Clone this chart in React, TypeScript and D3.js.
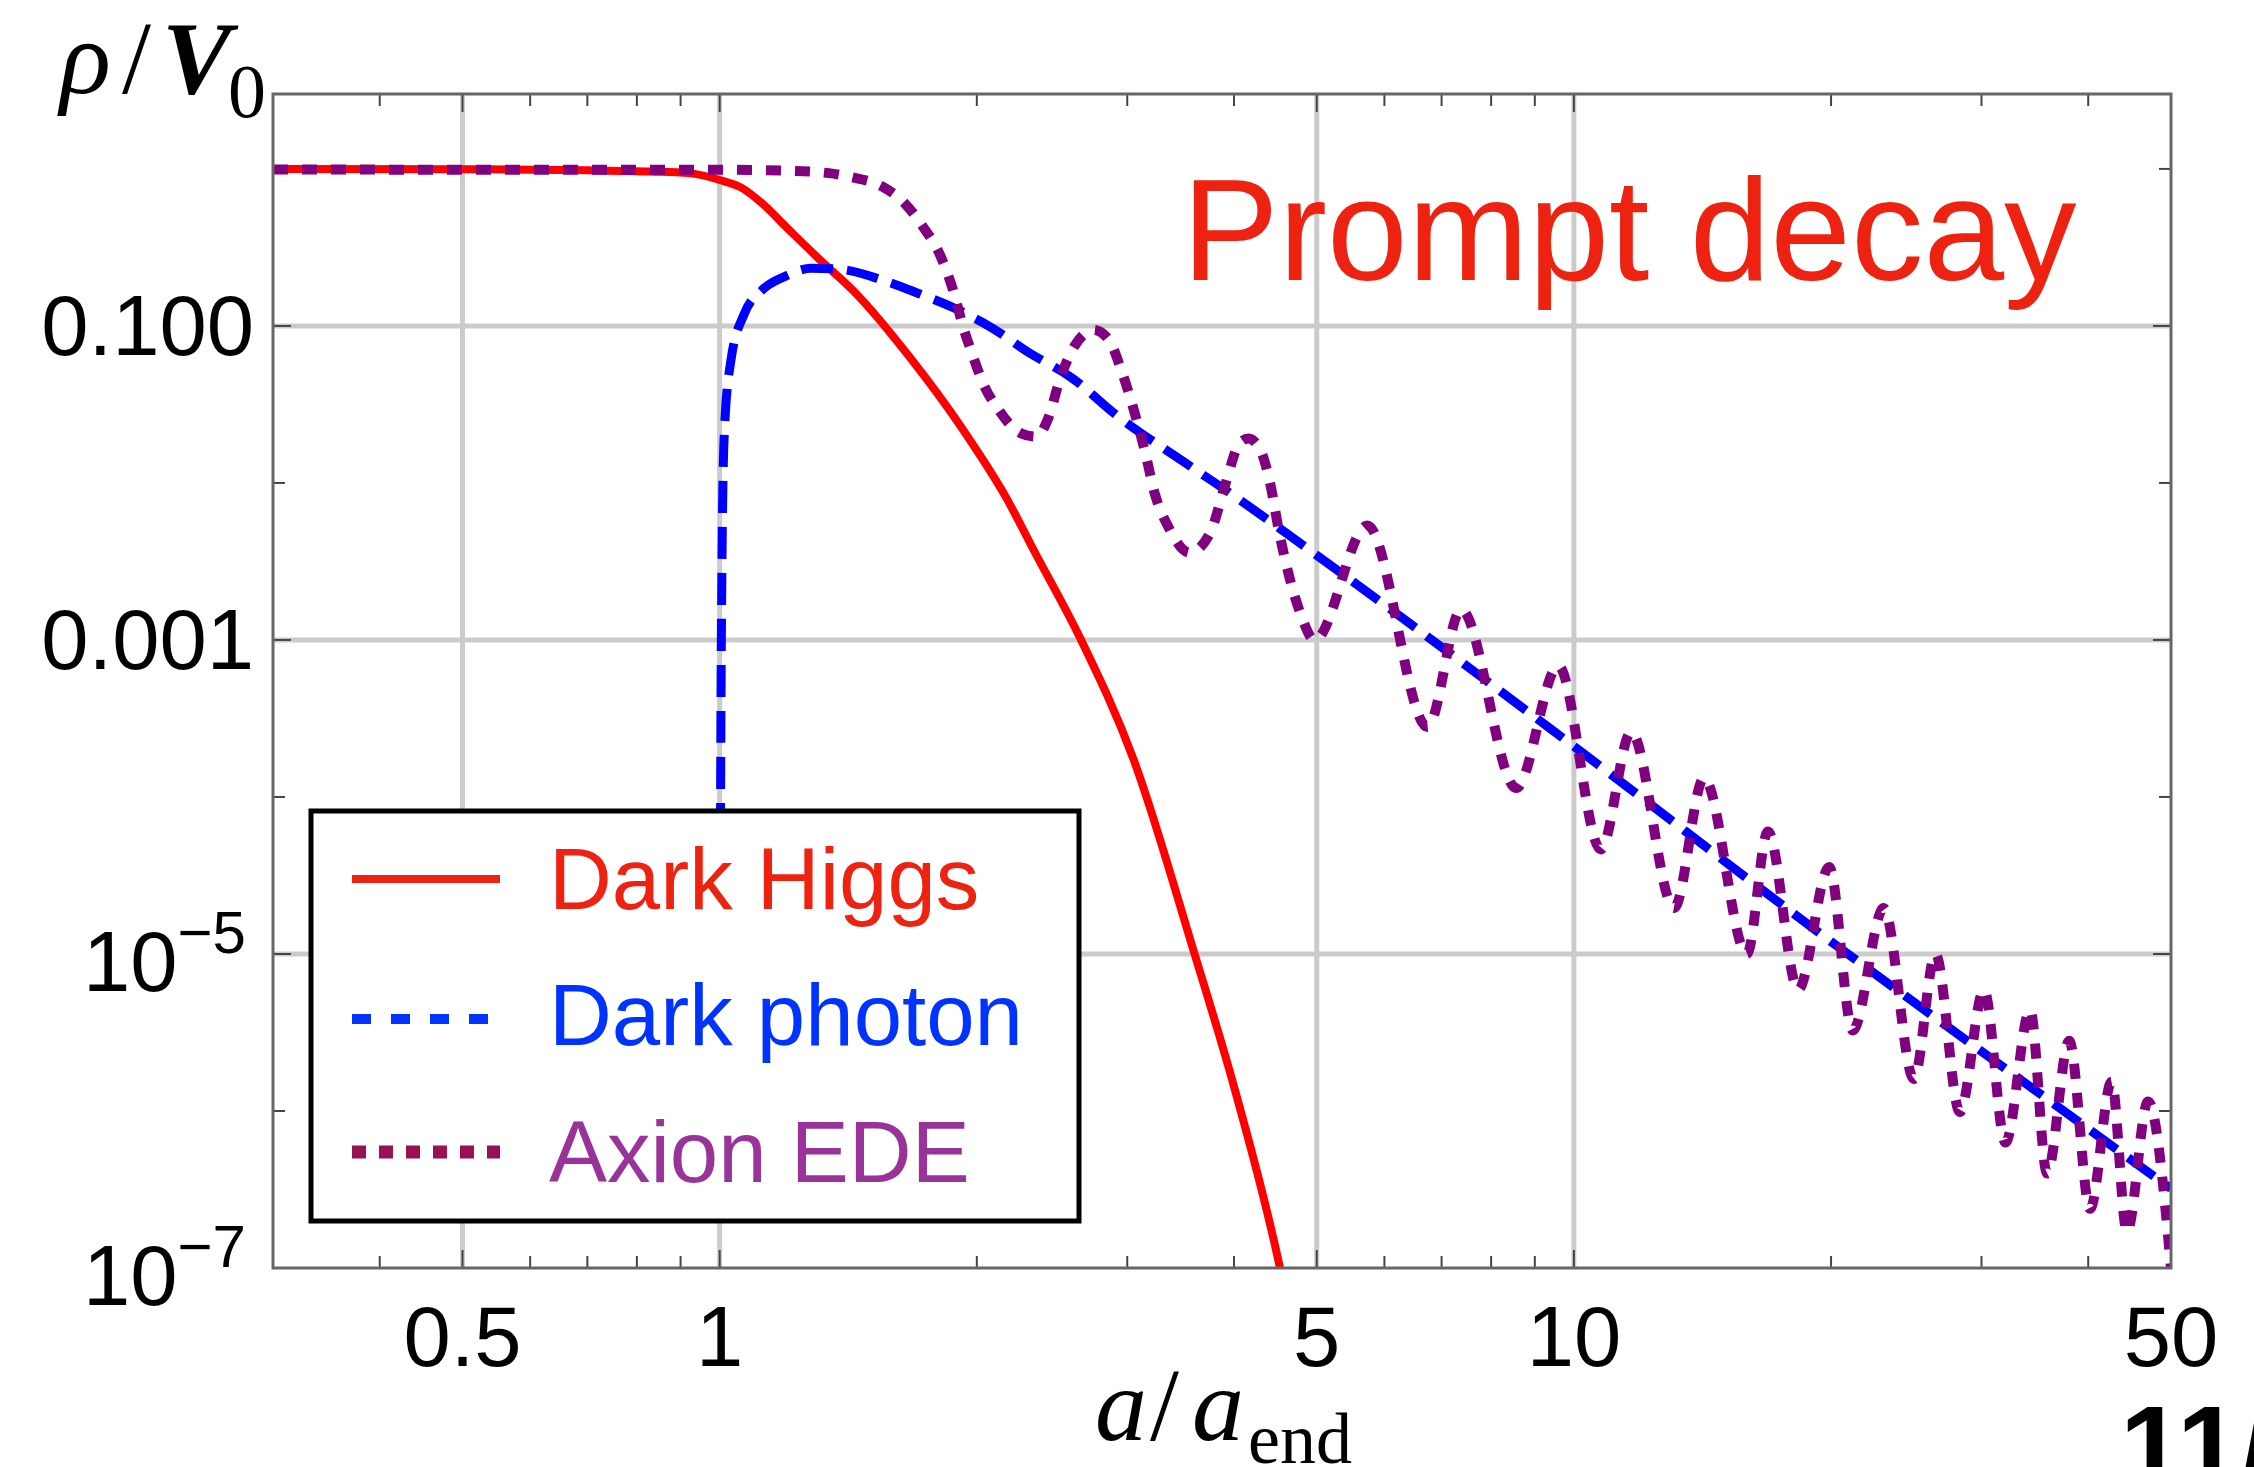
import React from "react";
import * as d3 from "d3";

const width = 2254;
const height = 1467;

// plot frame (px)
const left = 273;
const right = 2171;
const top = 94;
const bottom = 1268;

// Dark Higgs (a/a_end, rho/V0)
const higgsA = [0.3, 0.5, 0.7, 0.83, 0.92, 1.0, 1.06, 1.121, 1.2, 1.311, 1.444, 1.667, 1.927, 2.172, 2.331, 2.644, 3.052, 3.587, 3.996, 4.53, 4.8];
const higgsRho = [1.0, 0.995, 0.98, 0.962, 0.94, 0.85, 0.76, 0.604, 0.42, 0.263, 0.161, 0.0638, 0.0218, 0.0078, 0.00374, 0.00102, 1.73e-4, 1.05e-5, 1.46e-6, 9.9e-8, 2e-8];

// Dark photon
const photonA = [1.0, 1.003, 1.0065, 1.0127, 1.031, 1.069, 1.121, 1.191, 1.28, 1.376, 1.551, 1.709, 1.881, 2.071, 2.308, 2.572, 2.93, 3.517, 3.96, 4.87, 10, 20, 30, 50];
const photonRho = [1e-6, 2e-4, 3.7e-3, 0.0209, 0.0607, 0.12, 0.169, 0.206, 0.233, 0.23, 0.196, 0.161, 0.13, 0.0991, 0.067, 0.0475, 0.0264, 0.0133, 8.6e-3, 3.84e-3, 2.1e-4, 1.2e-5, 2.4e-6, 3.2e-7];

// Axion EDE (oscillating)
const axionA = [0.3, 1.0, 1.191, 1.343, 1.427, 1.551, 1.646, 1.729, 1.815, 1.881, 1.927, 1.974, 2.034, 2.121, 2.253, 2.35, 2.42, 2.508, 2.6, 2.74, 2.855, 2.96, 3.077, 3.15, 3.23, 3.35, 3.55, 3.75, 3.91, 4.06, 4.16, 4.31, 4.41, 4.52, 4.78, 4.97, 5.73, 6.74, 7.38, 8.56, 9.59, 10.75, 11.67, 13.1, 14.2, 15.94, 16.87, 18.3, 19.9, 21.2, 23.05, 25.0, 26.5, 28.3, 30.2, 32, 34.2, 35.8, 38.0, 40.2, 42.6, 44.4, 47.0, 50];
const axionRho = [0.99, 0.987, 0.975, 0.94, 0.885, 0.771, 0.605, 0.43, 0.276, 0.161, 0.099, 0.067, 0.0431, 0.0292, 0.0207, 0.0197, 0.0252, 0.0475, 0.0738, 0.0944, 0.0815, 0.05, 0.0252, 0.0155, 8.6e-3, 5.27e-3, 3.6e-3, 4.79e-3, 9.9e-3, 0.0179, 0.0192, 0.0155, 9.9e-3, 4.8e-3, 1.5e-3, 1.0e-3, 5.36e-3, 2.79e-4, 1.56e-3, 1.14e-4, 6.85e-4, 4.63e-5, 2.59e-4, 1.96e-5, 1.32e-4, 1.0e-5, 6.03e-5, 5.92e-6, 3.58e-5, 3.26e-6, 1.96e-5, 1.6e-6, 1.0e-5, 9.86e-7, 5.92e-6, 6.3e-7, 4.4e-6, 4.0e-7, 2.8e-6, 2.38e-7, 1.54e-6, 1.7e-7, 1.15e-6, 1.0e-7];

// ticks
const xMajor = [0.5, 1, 5, 10, 50];
const xLabels = ["0.5", "1", "5", "10", "50"];
const xMinor = [0.4, 0.6, 0.7, 0.8, 0.9, 2, 3, 4, 6, 7, 8, 9, 20, 30, 40];
const xGrid = [0.5, 1, 5, 10];
const yMajor = [0.1, 1e-3, 1e-5, 1e-7];
const yLabels = ["0.100", "0.001", "10|−5", "10|−7"];
const yMinor = [1, 0.01, 1e-4, 1e-6];
const yGrid = [0.1, 1e-3, 1e-5];

const legendNames = ["Dark Higgs", "Dark photon", "Axion EDE"];

const sans = "'Liberation Sans', Arial, Helvetica, sans-serif";
const serif = "'Liberation Serif', 'Times New Roman', Times, serif";

const App = () => {
    const xScale = d3.scaleLog().domain([0.3, 50]).range([left, right]);
    const yScale = d3.scaleLog().domain([1e-7, 3]).range([bottom, top]);
    const line = d3.line()
        .x(d => xScale(d[0]))
        .y(d => yScale(d[1]))
        .curve(d3.curveMonotoneX);

    const higgs = higgsA.map((a, i) => [a, higgsRho[i]]);
    const photon = photonA.map((a, i) => [a, photonRho[i]]);
    const axion = axionA.map((a, i) => [a, axionRho[i]]);

    const majLen = 18;
    const minLen = 12;

    return (
        <svg width={width} height={height} style={{ position: "absolute", left: 0, top: 0, background: "#fff" }}>
            <defs>
                <clipPath id="plotClip">
                    <rect x={left} y={top} width={right - left} height={bottom - top} />
                </clipPath>
            </defs>
            <rect x={0} y={0} width={width} height={height} fill="#fff" />

            {/* grid */}
            {xGrid.map(v => (
                <line key={"gx" + v} x1={xScale(v)} x2={xScale(v)} y1={top} y2={bottom} stroke="#cbcbcb" strokeWidth={5} />
            ))}
            {yGrid.map(v => (
                <line key={"gy" + v} x1={left} x2={right} y1={yScale(v)} y2={yScale(v)} stroke="#cbcbcb" strokeWidth={5} />
            ))}

            {/* ticks, inside on all four sides */}
            <g stroke="#444" strokeWidth={2}>
                {xMajor.concat(xMinor).map(v => {
                    const len = xMajor.includes(v) ? majLen : minLen;
                    const x = xScale(v);
                    return (
                        <g key={"tx" + v}>
                            <line x1={x} x2={x} y1={bottom} y2={bottom - len} />
                            <line x1={x} x2={x} y1={top} y2={top + len} />
                        </g>
                    );
                })}
                {yMajor.concat(yMinor).map(v => {
                    const len = yMajor.includes(v) ? majLen : minLen;
                    const y = yScale(v);
                    return (
                        <g key={"ty" + v}>
                            <line x1={left} x2={left + len} y1={y} y2={y} />
                            <line x1={right} x2={right - len} y1={y} y2={y} />
                        </g>
                    );
                })}
            </g>

            {/* curves */}
            <g clipPath="url(#plotClip)" fill="none">
                <path d={line(higgs)} stroke="#ff0000" strokeWidth={8} />
                <path d={line(photon)} stroke="#0000ff" strokeWidth={9} strokeDasharray="32,14" />
                <path d={line(axion)} stroke="#800080" strokeWidth={10} strokeDasharray="15,14" />
            </g>

            {/* frame */}
            <rect x={left} y={top} width={right - left} height={bottom - top} fill="none" stroke="#666" strokeWidth={3} />

            {/* tick labels */}
            <g fontFamily={sans} fontSize={85} fill="#000">
                {xMajor.map((v, i) => (
                    <text key={"lx" + v} x={xScale(v)} y={1366} textAnchor="middle">{xLabels[i]}</text>
                ))}
                {yMajor.map((v, i) => {
                    const lab = yLabels[i];
                    const y = yScale(v);
                    if (lab.includes("|")) {
                        const [base, exp] = lab.split("|");
                        return (
                            <text key={"ly" + v} x={246} y={y + 37} textAnchor="end">
                                {base}
                                <tspan dy={-38} fontSize={60}>{exp}</tspan>
                            </text>
                        );
                    }
                    return <text key={"ly" + v} x={254} y={y + 29} textAnchor="end">{lab}</text>;
                })}
            </g>

            {/* axis titles */}
            <g fontFamily={serif} fill="#000">
                <text x={60} y={93} fontSize={106} fontStyle="italic">ρ</text>
                <text x={122} y={93} fontSize={104}>/</text>
                <text x={162} y={93} fontSize={104} fontStyle="italic" fontWeight="bold">V</text>
                <text x={228} y={117} fontSize={76}>0</text>

                <text x={1095} y={1440} fontSize={104} fontStyle="italic">a</text>
                <text x={1150} y={1440} fontSize={104}>/</text>
                <text x={1192} y={1440} fontSize={104} fontStyle="italic">a</text>
                <text x={1248} y={1463} fontSize={72}>end</text>
            </g>

            {/* annotation */}
            <text x={1182} y={280} fontFamily={sans} fontSize={145} fill="#ee2211">Prompt decay</text>

            {/* legend */}
            <rect x={311} y={811} width={768} height={410} fill="#fff" stroke="#000" strokeWidth={5} />
            <line x1={352} x2={500} y1={879} y2={879} stroke="#ee2211" strokeWidth={8} />
            <line x1={352} x2={490} y1={1019} y2={1019} stroke="#0033ff" strokeWidth={10} strokeDasharray="19,20" />
            <line x1={352} x2={500} y1={1152} y2={1152} stroke="#991155" strokeWidth={13} strokeDasharray="14,13" />
            <g fontFamily={sans} fontSize={87}>
                <text x={549} y={909} fill="#ee2211">{legendNames[0]}</text>
                <text x={549} y={1045} fill="#0033ff">{legendNames[1]}</text>
                <text x={549} y={1182} fill="#993399">{legendNames[2]}</text>
            </g>

            {/* page number fragment, cut by the page edge */}
            <text x={2120} y={1485} fontFamily={sans} fontSize={114} fontWeight="bold" fill="#000">11/</text>
        </svg>
    );
};

export default App;
